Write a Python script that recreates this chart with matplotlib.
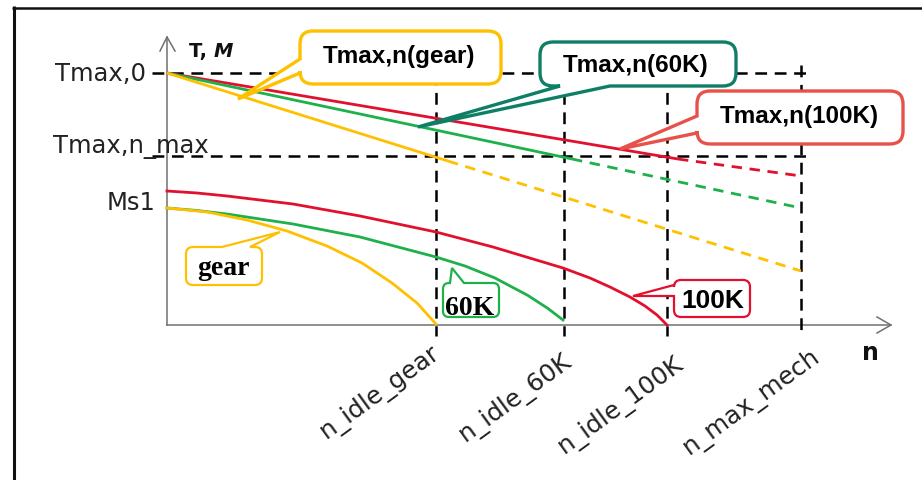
import matplotlib
matplotlib.use("Agg")
import matplotlib.pyplot as plt
from matplotlib.path import Path
from matplotlib.patches import PathPatch

plt.rcParams["lines.scale_dashes"] = False
plt.rcParams["font.family"] = ["DejaVu Sans"]

# ---- characteristic speeds (n axis) and torque levels (T axis) ----
n_labels = ["n_idle_gear", "n_idle_60K", "n_idle_100K", "n_max_mech"]
n_marks = [269, 397, 500, 634]
T_max0 = 252
T_max_nmax = 169

# ---- max torque lines: start, end of solid part, value at n_max_mech ----
tmax_n_gear = [0, 281, 634]
tmax_T_gear = [252, 164, 54]
tmax_n_60K = [0, 405, 634]
tmax_T_60K = [252, 166, 117]
tmax_n_100K = [0, 511, 634]
tmax_T_100K = [252, 166, 149]

# ---- static torque curves M(n) ----
m_n_gear = [0, 40, 80, 120, 160, 195, 225, 250, 269]
m_gear = [117, 113, 105, 94, 79, 62, 42, 22, 1]
m_n_60K = [0, 30, 60, 126, 193, 231, 269, 298, 328, 361, 381, 396]
m_60K = [117, 114.5, 111, 101, 88, 78, 68, 59, 47, 29.5, 16.5, 5]
m_n_100K = [0, 30, 60, 126, 193, 269, 326, 396, 423, 443, 463, 478, 490, 500]
m_100K = [134, 132, 129, 121, 109, 93, 78, 57, 47, 38, 28, 19, 10, 0]

YELLOW = "#FFC000"
GREEN = "#1EB04B"
RED = "#E2102E"
TEAL = "#0E7F66"
CORAL = "#E8514A"
AXIS_GREY = "#707070"

W, H = 922, 481
OX, OY = 167, 326  # origin of the diagram in pixel space


def X(px):
    return px - OX


def Y(py):
    return OY - py


fig = plt.figure(figsize=(W / 100, H / 100), dpi=100)
ax = fig.add_axes([0, 0, 1, 1])
ax.set_xlim(-OX, W - OX)
ax.set_ylim(OY - H, OY)
ax.axis("off")

# outer frame (left and top edges)
ax.plot([X(13.5), X(13.5)], [Y(7), Y(481)], color="#111111", lw=2.2,
        solid_capstyle="butt", clip_on=False)
ax.plot([X(12), X(922)], [Y(8.5), Y(8.5)], color="#111111", lw=1.8,
        solid_capstyle="butt", clip_on=False)

# axes with open arrow heads
ax.plot([0, 0], [0, Y(38)], color=AXIS_GREY, lw=1.1)
ax.plot([X(160), 0, X(175)], [Y(52), Y(38), Y(52)], color=AXIS_GREY, lw=1.1)
ax.plot([0, X(891)], [0, 0], color=AXIS_GREY, lw=1.1)
ax.plot([X(877), X(891), X(877)], [Y(318), Y(326), Y(334)], color=AXIS_GREY, lw=1.1)

# reference dashed lines
ref = dict(color="black", lw=1.8, linestyle=(0, (8.5, 5.5)), zorder=2)
ax.plot([-15, n_marks[-1] + 6], [T_max0, T_max0], **ref)
ax.plot([-15, n_marks[-1] + 6], [T_max_nmax, T_max_nmax], **ref)
for nm in n_marks[:3]:
    ax.plot([nm, nm], [T_max0, -11], **ref)
ax.plot([n_marks[-1], n_marks[-1]], [T_max0 + 8, -11], **ref)

# max torque lines: solid up to the split point, dashed beyond
dash = (0, (7.5, 5.5))
for nn, tt, col in [(tmax_n_100K, tmax_T_100K, RED),
                    (tmax_n_60K, tmax_T_60K, GREEN),
                    (tmax_n_gear, tmax_T_gear, YELLOW)]:
    ax.plot(nn[:2], tt[:2], color=col, lw=2.0, zorder=3, solid_capstyle="butt")
    ax.plot(nn[1:], tt[1:], color=col, lw=2.0, linestyle=dash, zorder=3)

# static torque curves
curve = dict(lw=2.0, zorder=3, solid_joinstyle="round")
ax.plot(m_n_100K, m_100K, color=RED, **curve)
ax.plot(m_n_60K, m_60K, color=GREEN, **curve)
ax.plot(m_n_gear, m_gear, color=YELLOW, **curve)


def callout(box, r, side, base, tip, color, lw):
    """Rounded box with a pointer wedge; coordinates given in pixel space."""
    x0, y0, x1, y1 = X(box[0]), Y(box[3]), X(box[2]), Y(box[1])
    tx, ty = X(tip[0]), Y(tip[1])
    if side in ("left", "right"):
        b = sorted([Y(base[0]), Y(base[1])])
    else:
        b = sorted([X(base[0]), X(base[1])])
    v, c = [(x0 + r, y0)], [Path.MOVETO]

    def line(p):
        v.append(p)
        c.append(Path.LINETO)

    def corner(ctrl, end):
        v.extend([ctrl, end])
        c.extend([Path.CURVE3, Path.CURVE3])

    if side == "bottom":
        line((b[0], y0)); line((tx, ty)); line((b[1], y0))
    line((x1 - r, y0))
    corner((x1, y0), (x1, y0 + r))
    if side == "right":
        line((x1, b[0])); line((tx, ty)); line((x1, b[1]))
    line((x1, y1 - r))
    corner((x1, y1), (x1 - r, y1))
    if side == "top":
        line((b[1], y1)); line((tx, ty)); line((b[0], y1))
    line((x0 + r, y1))
    corner((x0, y1), (x0, y1 - r))
    if side == "left":
        line((x0, b[1])); line((tx, ty)); line((x0, b[0]))
    line((x0, y0 + r))
    corner((x0, y0), (x0 + r, y0))
    v.append((x0 + r, y0))
    c.append(Path.CLOSEPOLY)
    ax.add_patch(PathPatch(Path(v, c), facecolor="white", edgecolor=color,
                           lw=lw, joinstyle="miter", zorder=5))


bold_sans = dict(family=["Liberation Sans", "DejaVu Sans"], fontweight="bold",
                 color="black", zorder=6)
bold_serif = dict(family=["Liberation Serif", "DejaVu Serif"], fontweight="bold",
                  color="black", zorder=6)

# max torque callouts
callout((300, 32, 501, 85), 13, "left", (60, 74), (238, 100), YELLOW, 2.4)
ax.text(X(399), Y(63), "Tmax,n(gear)", ha="center", va="baseline", fontsize=17.5, **bold_sans)
callout((540, 43, 736, 87), 13, "bottom", (560, 610), (418, 128), TEAL, 2.4)
ax.text(X(636), Y(72), "Tmax,n(60K)", ha="center", va="baseline", fontsize=17.5, **bold_sans)
callout((697, 92, 903, 145), 13, "left", (117, 134), (620, 150), CORAL, 2.4)
ax.text(X(799), Y(123), "Tmax,n(100K)", ha="center", va="baseline", fontsize=17.5, **bold_sans)

# static torque callouts
callout((186, 248, 262, 286), 7, "top", (222, 250), (280, 233), YELLOW, 1.6)
ax.text(X(223), Y(275), "gear", ha="center", va="baseline", fontsize=20, **bold_serif)
callout((443, 284, 499, 318), 6, "top", (450, 464), (452, 269), GREEN, 1.6)
ax.text(X(470), Y(315), "60K", ha="center", va="baseline", fontsize=20, **bold_serif)
callout((674, 281, 750, 318), 7, "left", (286, 297), (633, 297), RED, 1.6)
ax.text(X(713), Y(308), "100K", ha="center", va="baseline", fontsize=19, **bold_sans)

# T axis labels
tick = dict(fontsize=17.5, color="#222222", family=["DejaVu Sans"])
ax.text(X(146), Y(81), "Tmax,0", ha="right", va="baseline", **tick)
ax.text(X(53), Y(153), "Tmax,n_max", ha="left", va="baseline", **tick)
ax.text(X(155), Y(210), "Ms1", ha="right", va="baseline", **tick)

# n axis labels (rotated)
label_ends = [(441, 356), (573, 364), (685, 367), (821, 359)]
for lab, (ex, ey) in zip(n_labels, label_ends):
    ax.text(X(ex), Y(ey), lab, rotation=36, rotation_mode="anchor",
            ha="right", va="baseline", fontsize=17.8, color="#222222",
            family=["DejaVu Sans"])

# axis titles
t1 = ax.text(X(189), Y(57), "T, ", fontsize=14, fontweight="bold", va="baseline",
             family=["DejaVu Sans"], color="#111111")
ax.annotate("M", xy=(1, 0), xycoords=t1, va="bottom", fontsize=14,
            fontweight="bold", fontstyle="italic", family=["DejaVu Sans"],
            color="#111111")
ax.text(X(870), Y(360), "n", ha="center", va="baseline", fontsize=17,
        fontweight="bold", family=["DejaVu Sans"], color="#111111")

fig.savefig("out.png", dpi=100, facecolor="white")
